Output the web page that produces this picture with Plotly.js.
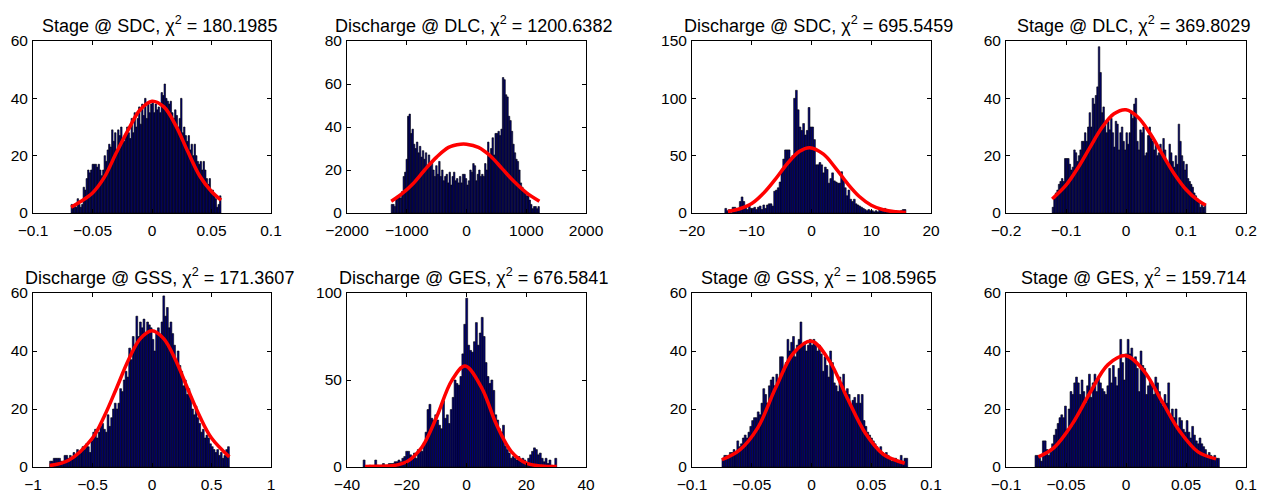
<!DOCTYPE html>
<html>
<head>
<meta charset="utf-8">
<script src="https://cdn.plot.ly/plotly-3.0.1.min.js"></script>
<style>html,body{margin:0;padding:0;background:#fff;}#chart{width:1264px;height:492px;}</style>
</head>
<body>
<div id="chart"></div>
<script>
// ---------- DATA ----------
const titles = [
  "Stage @ SDC, χ<sup>2</sup> = 180.1985",
  "Discharge @ DLC, χ<sup>2</sup> = 1200.6382",
  "Discharge @ SDC, χ<sup>2</sup> = 695.5459",
  "Stage @ DLC, χ<sup>2</sup> = 369.8029",
  "Discharge @ GSS, χ<sup>2</sup> = 171.3607",
  "Discharge @ GES, χ<sup>2</sup> = 676.5841",
  "Stage @ GSS, χ<sup>2</sup> = 108.5965",
  "Stage @ GES, χ<sup>2</sup> = 159.714"
];

// histogram bin range (first edge, last edge) per panel
const binStart = [-0.068, -1260, -14.5, -0.123, -0.86, -34.6, -0.0749, -0.0758];
const binEnd   = [ 0.058,  1220,  15.8,  0.133,  0.65,  30.2,  0.0805,  0.0778];

const counts1 = [3,2,3,2,5,3,2,3, 9,8,12,15,14,15,17,17, 17,16,17,15,13,15,20,18,
  22,24,23,29,25,28,22,29, 27,30,26,25,27,30,28,26, 33,28,35,30,33,37,31,38,
  34,40,33,38,35,38,39,35, 38,36,37,35,42,41,45,40, 39,38,39,35,33,36,34,30,
  33,40,28,30,27,25,27,22, 24,20,24,20,18,17,18,15, 18,15,12,10,12,8,8,6, 5,2,3,6];
const counts2 = [4,4,3,7,8,8,7,10,17,19,25,
  45,46,37,39, 32,30,33,28, 31,26,29,25, 28,21,27,22, 24,20,17,22,
  18,24,17,20, 15,17,18,14, 19,13,17,19, 15,16,14,17, 14,18,18,16,
  13,15,20,19, 23,22,15,18, 20,17,18,17, 23,20,33,26, 30,35,27,37, 37,38,36,39,
  63,62,55,54, 45,43,38,32, 28,25,24,20, 14,12,10,10, 8,8,6,4, 2,3,3,2,3];
const counts3 = [4,2,3,0,5,5,4,2, 10,14,10, 5,3,6,4,4,5,3, 5,6,3,7,4,7,8,
  8,6,19,20,22,27, 37,47,55,55,55,48,50, 100,107,90,75,72,78,68,72,92,75,
  75,64,42, 42,44,42, 35,40,38, 26,30,35, 28,27,26, 26,36,30,22, 15,20,12,
  10,12,8, 7,6,5, 4,3,2,3,2,
  2,1,2,1,3,2,3,4,3,1,0,1,0,2,1,0,2,3,3];
const counts4 = [2,5,7,8, 10,11,12,11, 19,19,19,17, 15,16,22,21, 18,20,22,25,
  25,28,25,30, 35,30,40,38, 41,44,58,49, 35,37,31,28, 32,29,33,28,
  23,32,31,22, 28,30,25,22, 28,24,28,35, 33,38,40,25, 22,29,28,30,
  20,21,27,30, 26,25,22,24, 20,21,24,20, 26,22,18,17, 24,21,18,16,
  20,17,31,25, 20,18,15,17, 12,11,10,9, 7,6,5,4, 2,3,2,3];
const counts5 = [2,2,3,3,
  3,3,2,2,4,4,3, 4,3,5,4,6,5, 5,7,6,8,7,5,9, 12,13,10,12,14,15,
  13,12,18,14,17,20,22, 20,22,27,26,30,33, 31,41,37,45,42,52,45,
  50,48,51,46,50,49, 48,44,40,46,48,45,50, 59,52,55,48,50,46,
  42,37,40,35,33,28,30, 25,27,24,20,18,21, 17,15,12,13,10,11,10,8,
  7,6,5,6,4,5,3,4,6,7];
const counts6 = [4,0,0,1,0,0,4, 1,0,1,2,1,1,2,2, 2,3,3,4,3,5,6,9, 9,7,6,8,5,10,10,9,
  14,20,33,36,28,27,30,27, 24,22,38,28,30,25,33, 40,50,48,47,52,65,82,97,
  70,67,66,72,83,70,77,86, 75,60,52,48,50,44,30, 27,22,20,24,12,10,8,5,
  6,5,4,6,3,5,4,2, 5,7,9,11,10,7,8, 5,3,5,2,4,1,0,5];
const counts7 = [3,4,4,
  3,5,5,6,5,9, 7,8,10,11,10,12,14, 16,17,17,19,18,22, 27,25,22,28,30,31,28,
  32,30,38,38,33,36, 44,40,43,45,38,42,44, 50,42,43,40,42,44,
  42,44,43,40,42,39,33, 38,35,31,40,36,29, 28,26,31,29,32,26,27,
  25,21,23,24,22,25, 22,25,16,14,12,11,10, 9,8,7,6,7,5, 4,5,4,3,2,3,
  3,2,2,4,2,3,3];
const counts8 = [4,4,3,2,
  9,9,6,4,5,8,11, 13,15,17,18,17,21, 13,20,26,25,29,31,29, 25,30,26,22,28,32,
  24,29,32,26,31,29,27, 26,25,28,34,29,35, 31,28,34,44,36,30,39,
  44,39,41,37,38,34, 26,40,35,34,25,28,30, 28,25,31,29,26,22,
  21,25,22,29,17,20,17, 20,14,17,16,13,12, 16,12,10,14,11,9,8, 10,8,7,6,4,5,
  4,3,4,3,3];
const counts = [counts1, counts2, counts3, counts4, counts5, counts6, counts7, counts8];

// fitted normal curves
const curveX1 = [-0.068,-0.06,-0.05,-0.04,-0.03,-0.02,-0.01,0,0.01,0.02,0.03,0.04,0.05,0.058];
const curveY1 = [2,4,7,12.5,21,29,36,39,37,30.5,21.5,13,7.5,4.5];
const curveX2 = [-1260,-1100,-900,-700,-500,-300,-100,0,200,400,600,800,1000,1220];
const curveY2 = [5.5,8.5,13.5,20,26,30.5,32,32,30.5,26.5,20.5,14.5,9.5,5.5];
const curveX3 = [-14,-12,-10,-8,-6,-4,-2,-0.3,2,4,6,8,10,12,14,15.8];
const curveY3 = [1.3,3.7,8.2,17.4,29.8,43.4,53.8,57,51.3,39.4,25.8,14.4,6.8,2.8,1,0.5];
const curveX4 = [-0.123,-0.1,-0.08,-0.06,-0.04,-0.02,0,0.02,0.04,0.06,0.08,0.1,0.12,0.133];
const curveY4 = [4.9,9.7,15.8,22.9,29.8,34.6,36,33.4,27.8,20.7,13.8,8.2,4.4,2.7];
const curveX5 = [-0.86,-0.7,-0.5,-0.4,-0.3,-0.2,-0.1,0,0.1,0.2,0.3,0.4,0.5,0.65];
const curveY5 = [0.5,2.3,10,17.6,27,36.7,44.2,47,44.2,36.7,27,17.6,10,3.5];
const curveX6 = [-34,-30,-25,-20,-15,-10,-5,-0.5,5,10,15,20,25,30.2];
const curveY6 = [0.3,0.4,0.7,3,11.2,28.7,49.5,58,45.8,24.5,8.9,2.2,0.6,0.3];
const curveX7 = [-0.075,-0.06,-0.045,-0.03,-0.015,0,0.015,0.03,0.045,0.06,0.078];
const curveY7 = [2.5,5.9,13.5,27.3,39.3,43.4,36.6,23.7,11.7,4.4,1.3];
const curveX8 = [-0.073,-0.06,-0.045,-0.03,-0.015,0,0.015,0.03,0.045,0.06,0.075];
const curveY8 = [3.5,6.7,14.7,25.6,35.3,38.4,33.1,22.6,12.2,5.2,2.8];
const curveX = [curveX1,curveX2,curveX3,curveX4,curveX5,curveX6,curveX7,curveX8];
const curveY = [curveY1,curveY2,curveY3,curveY4,curveY5,curveY6,curveY7,curveY8];

// axes
const xRanges = [[-0.1,0.1],[-2000,2000],[-20,20],[-0.2,0.2],[-1,1],[-40,40],[-0.1,0.1],[-0.1,0.1]];
const yRanges = [[0,60],[0,80],[0,150],[0,60],[0,60],[0,100],[0,60],[0,60]];
const xTickVals = [
  [-0.1,-0.05,0,0.05,0.1],[-2000,-1000,0,1000,2000],[-20,-10,0,10,20],[-0.2,-0.1,0,0.1,0.2],
  [-1,-0.5,0,0.5,1],[-40,-20,0,20,40],[-0.1,-0.05,0,0.05,0.1],[-0.1,-0.05,0,0.05,0.1]];
const xTickText = [
  ["−0.1","−0.05","0","0.05","0.1"],["−2000","−1000","0","1000","2000"],["−20","−10","0","10","20"],["−0.2","−0.1","0","0.1","0.2"],
  ["−1","−0.5","0","0.5","1"],["−40","−20","0","20","40"],["−0.1","−0.05","0","0.05","0.1"],["−0.1","−0.05","0","0.05","0.1"]];
const yTickVals = [[0,20,40,60],[0,20,40,60,80],[0,50,100,150],[0,20,40,60],[0,20,40,60],[0,50,100],[0,20,40,60],[0,20,40,60]];

// ---------- LAYOUT ----------
const W = 1264, H = 492;
const colPx = [[33,271],[347,586],[692,931],[1006,1246]];
const rowPx = [[41,213],[293,467]];
const FONT = "Liberation Sans, Arial, Helvetica, sans-serif";

const traces = [];
const layout = {
  width: W, height: H,
  margin: {l:0, r:0, t:0, b:0},
  paper_bgcolor: "#fff", plot_bgcolor: "#fff",
  showlegend: false, bargap: 0,
  font: {family: FONT, size: 15, color: "#000"},
  annotations: []
};

for (let k = 0; k < 8; k++) {
  const row = Math.floor(k / 4), col = k % 4;
  const n = counts[k].length;
  const bw = (binEnd[k] - binStart[k]) / n;
  const xs = counts[k].map((_, i) => binStart[k] + (i + 0.5) * bw);
  const sfx = k === 0 ? "" : String(k + 1);
  traces.push({
    type: "bar", x: xs, y: counts[k], width: bw,
    xaxis: "x" + sfx, yaxis: "y" + sfx,
    marker: {color: "#00007a", line: {color: "#000", width: 0.6}},
    hoverinfo: "x+y"
  });
  traces.push({
    type: "scatter", mode: "lines", x: curveX[k], y: curveY[k],
    xaxis: "x" + sfx, yaxis: "y" + sfx,
    line: {color: "#ff0000", width: 3.5, shape: "spline", smoothing: 1},
    hoverinfo: "skip"
  });
  const xd = [colPx[col][0] / W, colPx[col][1] / W];
  const yd = [1 - rowPx[row][1] / H, 1 - rowPx[row][0] / H];
  const common = {
    showline: true, linecolor: "#000", linewidth: 1, mirror: "ticks",
    ticks: "inside", ticklen: 4, tickwidth: 1, tickcolor: "#000",
    showgrid: false, zeroline: false, fixedrange: true,
    tickfont: {family: FONT, size: 15.5, color: "#000"}
  };
  layout["xaxis" + sfx] = Object.assign({}, common, {
    domain: xd, range: xRanges[k], anchor: "y" + sfx,
    tickmode: "array", tickvals: xTickVals[k], ticktext: xTickText[k],
    ticklabelstandoff: 3
  });
  layout["yaxis" + sfx] = Object.assign({}, common, {
    domain: yd, range: yRanges[k], anchor: "x" + sfx,
    tickmode: "array", tickvals: yTickVals[k], ticktext: yTickVals[k].map(String),
    ticklabelstandoff: 1
  });
  layout.annotations.push({
    text: titles[k], xref: "paper", yref: "paper",
    x: (xd[0] + xd[1]) / 2, y: yd[1], xanchor: "center", yanchor: "bottom",
    xshift: 7, yshift: 3, showarrow: false,
    font: {family: FONT, size: 18, color: "#000"}
  });
}

Plotly.newPlot("chart", traces, layout, {displayModeBar: false, staticPlot: true});
</script>
</body>
</html>
